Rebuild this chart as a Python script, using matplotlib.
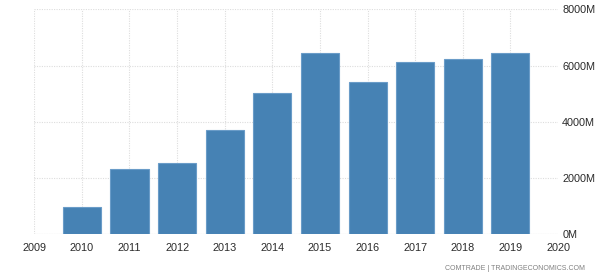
import numpy as np
import matplotlib
matplotlib.use("Agg")
import matplotlib.pyplot as plt
from matplotlib.ticker import FuncFormatter

years = [2010, 2011, 2012, 2013, 2014, 2015, 2016, 2017, 2018, 2019]
values = [950, 2300, 2510, 3700, 5010, 6460, 5420, 6120, 6240, 6460]
x_ticks = list(range(2009, 2021))
y_ticks = [0, 2000, 4000, 6000, 8000]

plt.rcParams['font.family'] = ['Liberation Sans', 'DejaVu Sans']

fig = plt.figure(figsize=(6.01, 2.79), dpi=100)
ax = fig.add_axes([0.057, 0.1624, 0.8715, 0.8036])

ax.bar(years, values, width=0.8, color='#4682b4', edgecolor='#6a9cc8', linewidth=0.8, zorder=3)

ax.set_xlim(2009, 2020)
ax.set_ylim(0, 8000)
ax.set_xticks(x_ticks)
ax.set_yticks(y_ticks)
ax.yaxis.tick_right()
ax.yaxis.set_major_formatter(FuncFormatter(lambda v, p: f'{int(v)}M'))

ax.grid(True, color='#dddddd', linestyle=(0, (1, 1.2)), linewidth=0.8, zorder=0)
ax.get_xgridlines()[-1].set_visible(False)
for s in ax.spines.values():
    s.set_visible(False)
ax.axhline(0, color='#dddddd', linewidth=0.8, zorder=1)

ax.tick_params(axis='both', length=0, labelsize=7.8, colors='#2b2b2b')
ax.tick_params(axis='x', pad=7)
ax.tick_params(axis='y', pad=3)

fig.text(0.973, 0.025, 'COMTRADE | TRADINGECONOMICS.COM', ha='right', va='bottom',
         fontsize=5.0, color='#808080')

fig.savefig('out.png', dpi=100)
